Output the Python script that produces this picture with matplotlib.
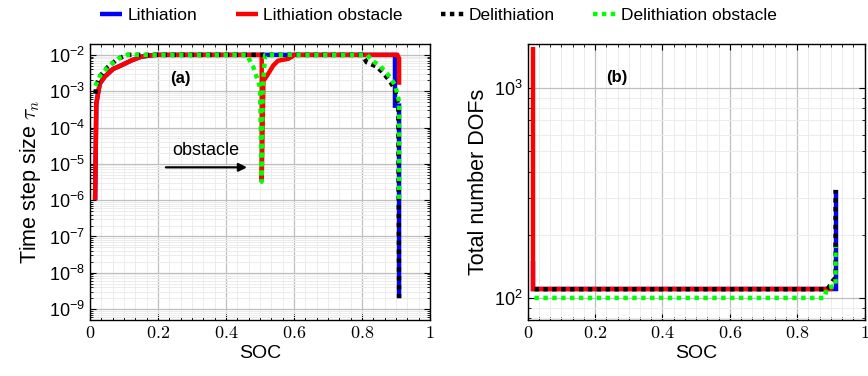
import matplotlib
matplotlib.use("Agg")
import matplotlib.pyplot as plt
from matplotlib.ticker import MultipleLocator, LogLocator, NullFormatter, FuncFormatter
from matplotlib.lines import Line2D

plt.rcParams['font.family'] = ['Liberation Sans', 'DejaVu Sans']
plt.rcParams['mathtext.fontset'] = 'cm'

# ---- (a) time step size ----
soc_li = [0.015, 0.0185, 0.0285, 0.043, 0.068, 0.091, 0.12, 0.15, 0.19, 0.897, 0.897, 0.909, 0.909]
tau_li = [1e-6, 4.5e-4, 1.6e-3, 2.5e-3, 4.1e-3, 5.1e-3, 6.9e-3, 8.9e-3, 1e-2, 1e-2, 4e-4, 4e-4, 2e-9]

soc_li_obs = [0.015, 0.0185, 0.0285, 0.043, 0.068, 0.091, 0.12, 0.15, 0.19, 0.50, 0.505, 0.505,
              0.51, 0.524, 0.539, 0.553, 0.583, 0.594, 0.60, 0.904, 0.909, 0.909]
tau_li_obs = [1e-6, 4.5e-4, 1.6e-3, 2.5e-3, 4.1e-3, 5.1e-3, 6.9e-3, 8.9e-3, 1e-2, 1e-2, 1e-2, 3.2e-6,
              1.9e-3, 3.0e-3, 5.1e-3, 6.9e-3, 7.8e-3, 8.9e-3, 1e-2, 1e-2, 8e-3, 1.5e-3]

soc_de = [0.016, 0.018, 0.028, 0.053, 0.082, 0.11, 0.80, 0.814, 0.843, 0.862, 0.882, 0.897, 0.907, 0.909]
tau_de = [8.5e-4, 1.4e-3, 2.5e-3, 4.7e-3, 7.8e-3, 1e-2, 1e-2, 6.2e-3, 4.8e-3, 3.2e-3, 1.9e-3, 1.1e-3, 3.8e-4, 2e-9]

soc_de_obs = [0.016, 0.028, 0.053, 0.082, 0.11, 0.461, 0.48, 0.49, 0.50, 0.505, 0.508, 0.515,
              0.815, 0.833, 0.853, 0.877, 0.897, 0.906, 0.909, 0.909]
tau_de_obs = [1.4e-3, 2.5e-3, 4.7e-3, 7.8e-3, 1e-2, 1e-2, 4.7e-3, 2.5e-3, 1.3e-3, 3.2e-6, 1.2e-3, 1e-2,
              1e-2, 6.6e-3, 5e-3, 2.8e-3, 1.5e-3, 7e-4, 5e-4, 1e-6]

# ---- (b) total number of DOFs ----
soc_li_b = [0.016, 0.016, 0.914, 0.914]
dof_li_b = [150, 110, 110, 327]
soc_li_obs_b = [0.016, 0.016, 0.905]
dof_li_obs_b = [1575, 110, 110]
soc_de_b = [0.02, 0.89, 0.905, 0.914, 0.914]
dof_de_b = [110, 110, 120, 125, 327]
soc_de_obs_b = [0.02, 0.88, 0.89, 0.914, 0.914]
dof_de_obs_b = [100, 100, 112, 114, 175]

labels = ['Lithiation', 'Lithiation obstacle', 'Delithiation', 'Delithiation obstacle']
colors = ['#0000ff', '#ff0000', '#000000', '#00ff00']
solid = dict(lw=3.2, solid_capstyle='butt', solid_joinstyle='miter')
dotted = dict(lw=3.2, linestyle=(0, (1, 1)), dash_capstyle='butt')

fig = plt.figure(figsize=(8.68, 3.76), dpi=100)
ax1 = fig.add_axes([0.1037, 0.149, 0.3917, 0.734])
ax2 = fig.add_axes([0.608, 0.149, 0.388, 0.734])

ax1.plot(soc_li, tau_li, color=colors[0], **solid)
ax1.plot(soc_li_obs, tau_li_obs, color=colors[1], **solid)
ax1.plot(soc_de, tau_de, color=colors[2], **dotted)
ax1.plot(soc_de_obs, tau_de_obs, color=colors[3], **dotted)

ax2.plot(soc_li_b, dof_li_b, color=colors[0], **solid)
ax2.plot(soc_li_obs_b, dof_li_obs_b, color=colors[1], **solid)
ax2.plot(soc_de_b, dof_de_b, color=colors[2], **dotted)
ax2.plot(soc_de_obs_b, dof_de_obs_b, color=colors[3], **dotted)

xfmt = FuncFormatter(lambda v, p: '$%g$' % round(v, 2))
for ax in (ax1, ax2):
    ax.set_yscale('log')
    ax.set_xlim(0, 1)
    ax.xaxis.set_major_locator(MultipleLocator(0.2))
    ax.xaxis.set_minor_locator(MultipleLocator(0.2 / 6))
    ax.xaxis.set_major_formatter(xfmt)
    ax.yaxis.set_major_locator(LogLocator(base=10, numticks=20))
    ax.yaxis.set_minor_locator(LogLocator(base=10, subs=range(2, 10), numticks=20))
    ax.yaxis.set_minor_formatter(NullFormatter())
    ax.tick_params(which='both', direction='in', top=True, right=True, labelsize=13)
    ax.tick_params(which='major', length=4, width=0.8)
    ax.tick_params(which='minor', length=2.5, width=0.6)
    ax.grid(which='major', color='#bfbfbf', lw=0.9)
    ax.grid(which='minor', color='#ececec', lw=0.7)
    ax.set_axisbelow(True)
    ax.set_xlabel('SOC', fontsize=14, labelpad=2)
    for s in ax.spines.values():
        s.set_linewidth(1.0)

ax1.set_ylim(10 ** -9.3, 10 ** -1.7)
ax2.set_ylim(78.5, 1620)
ax1.set_ylabel(r'Time step size $\tau_n$', fontsize=15.5, labelpad=4)
ax2.set_ylabel('Total number DOFs', fontsize=15.5, labelpad=4)

ax1.text(0.265, 2.2e-3, '(a)', fontsize=12, fontweight='bold', ha='center', va='center')
ax2.text(0.265, 1120, '(b)', fontsize=12, fontweight='bold', ha='center', va='center')
ax1.annotate('', xy=(0.47, 8e-6), xytext=(0.215, 8e-6),
             arrowprops=dict(arrowstyle='-|>', color='black', lw=1.6, mutation_scale=12))
ax1.text(0.34, 2.3e-5, 'obstacle', fontsize=13, ha='center', va='center')

handles = [Line2D([], [], color=colors[0], **solid),
           Line2D([], [], color=colors[1], **solid),
           Line2D([], [], color=colors[2], **dotted),
           Line2D([], [], color=colors[3], **dotted)]
fig.legend(handles, labels, loc='center', bbox_to_anchor=(0.505, 0.96), ncol=4, frameon=False,
           fontsize=12.5, handlelength=1.3, handletextpad=0.3, columnspacing=2.2)

fig.savefig('out.png', dpi=100)
